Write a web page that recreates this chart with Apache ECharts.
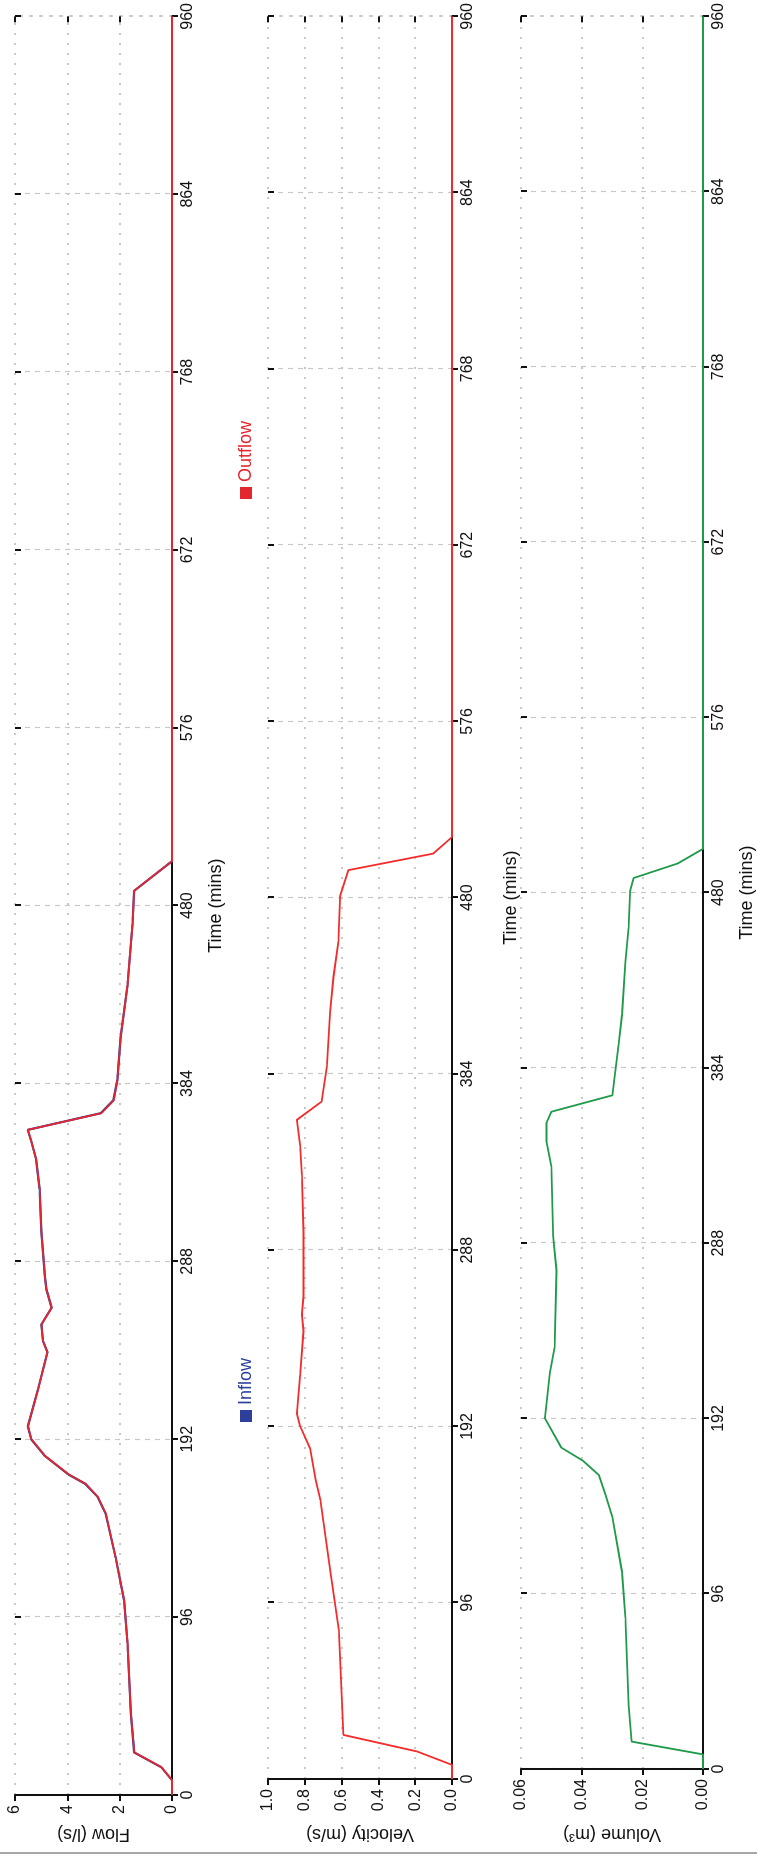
<!DOCTYPE html>
<html>
<head>
<meta charset="utf-8">
<script src="https://cdn.jsdelivr.net/npm/echarts@6/dist/echarts.min.js"></script>
<style>
  html, body { margin: 0; padding: 0; background: #fff; overflow: hidden; width: 757px; height: 1854px; }
  /* the chart is laid out landscape and turned a quarter to the left */
  #chart {
    position: absolute; left: 0; top: 0;
    width: 1854px; height: 757px;
    transform-origin: 0 0;
    transform: translate(0, 1854px) rotate(-90deg);
  }
</style>
</head>
<body>
<div id="chart"></div>
<script>
// time (mins) of each reading
var flowTimes = [0, 8, 15, 23, 44, 82, 105, 128, 152, 161, 168, 173, 183, 192, 199, 219, 239, 245, 254, 263, 273, 280, 304, 327, 343, 353, 359, 368, 375, 386, 409, 437, 470, 488, 504, 960]
var inflow = [0, 0, 0.41, 1.45, 1.57, 1.70, 1.83, 2.15, 2.54, 2.85, 3.32, 3.96, 4.86, 5.38, 5.51, 5.12, 4.76, 4.93, 4.99, 4.60, 4.80, 4.86, 4.99, 5.06, 5.19, 5.38, 5.51, 2.72, 2.24, 2.09, 1.96, 1.70, 1.51, 1.45, 0, 0]
var outflow = [0, 0, 0.40, 1.44, 1.57, 1.70, 1.83, 2.15, 2.53, 2.84, 3.30, 3.94, 4.85, 5.37, 5.51, 5.12, 4.76, 4.93, 4.99, 4.60, 4.80, 4.86, 4.99, 5.06, 5.19, 5.38, 5.51, 2.70, 2.22, 2.09, 1.96, 1.70, 1.51, 1.45, 0, 0]

var velTimes = [0, 7.7, 15, 24, 81, 112, 152, 163, 180, 192, 199, 220, 244, 253, 263, 298, 329, 345, 359, 369, 388, 418, 437, 456, 481, 495, 504, 513, 960]
var velocity = [0, 0, 0.19, 0.59, 0.615, 0.66, 0.715, 0.741, 0.771, 0.825, 0.843, 0.825, 0.807, 0.816, 0.807, 0.807, 0.816, 0.825, 0.843, 0.708, 0.68, 0.662, 0.644, 0.617, 0.608, 0.563, 0.103, 0, 0]

var volTimes = [0, 8, 15, 35, 83, 108, 138, 150, 161, 169, 176, 192, 217, 231, 273, 292, 330, 344, 354, 360, 369, 397, 413, 442, 461, 481, 488, 496, 504, 960]
var volume = [0, 0, 0.0235, 0.0245, 0.0256, 0.0267, 0.0299, 0.0321, 0.0343, 0.0397, 0.0467, 0.0521, 0.0505, 0.0489, 0.0483, 0.0494, 0.050, 0.0516, 0.0516, 0.050, 0.0299, 0.0278, 0.0267, 0.0256, 0.0245, 0.024, 0.0229, 0.0083, 0, 0]

var FONT = '"Liberation Sans", Arial, sans-serif'
var INK = '#111'
var GRIDGREY = '#c8c8c8'

function pairs(ts, vs) {
  return ts.map(function (t, i) { return [t, vs[i]] })
}

function timeAxes(gi, nameGap) {
  return [{
    type: 'value', gridIndex: gi, min: 0, max: 960, interval: 96,
    name: 'Time (mins)', nameLocation: 'middle', nameGap: nameGap,
    nameTextStyle: { fontSize: 18, color: INK, fontFamily: FONT },
    axisLine: { onZero: false, lineStyle: { color: INK, width: 2 } },
    axisTick: { length: 6, lineStyle: { color: INK, width: 2 } },
    axisLabel: { fontSize: 16, color: INK, margin: 8, fontFamily: FONT },
    splitLine: { show: true, showMaxLine: false, lineStyle: { color: GRIDGREY, type: [5, 5], width: 1.2 } }
  }, {
    // second axis only to make ticks cross the line
    type: 'value', gridIndex: gi, min: 0, max: 960, interval: 96,
    axisLine: { show: false, onZero: false },
    axisTick: { inside: true, length: 6, lineStyle: { color: INK, width: 2 } },
    axisLabel: { show: false },
    splitLine: { show: false }
  }]
}

function valueAxes(gi, name, max, step, digits, nameGap) {
  return [{
    type: 'value', gridIndex: gi, min: 0, max: max, interval: step,
    name: name, nameLocation: 'middle', nameGap: nameGap,
    nameTextStyle: { fontSize: 18, color: INK, fontFamily: FONT },
    axisLine: { show: true, onZero: false, lineStyle: { color: INK, width: 2 } },
    axisTick: { show: true, length: 6, lineStyle: { color: INK, width: 2 } },
    axisLabel: {
      fontSize: 16, color: INK, margin: 10, fontFamily: FONT,
      formatter: function (v) { return v.toFixed(digits) }
    },
    splitLine: { show: true, lineStyle: { color: GRIDGREY, type: [2, 8], width: 2 } }
  }, {
    type: 'value', gridIndex: gi, min: 0, max: max, interval: step,
    axisLine: { show: false, onZero: false },
    axisTick: { show: true, inside: true, length: 6, lineStyle: { color: INK, width: 2 } },
    axisLabel: { show: false },
    splitLine: { show: false }
  }, {
    // dotted frame at the 960 end
    type: 'value', gridIndex: gi, min: 0, max: max, position: 'right',
    axisLine: { show: true, onZero: false, lineStyle: { color: GRIDGREY, type: [2, 8], width: 2 } },
    axisTick: { show: false },
    axisLabel: { show: false },
    splitLine: { show: false }
  }]
}

var chart = echarts.init(document.getElementById('chart'))

var legendText = { fontSize: 18, fontFamily: FONT }

chart.setOption({
  animation: false,
  backgroundColor: '#fff',
  grid: [
    { left: 59, right: 16, top: 15, height: 157 },
    { left: 75, right: 16, top: 268, height: 184 },
    { left: 85, right: 16, top: 521, height: 185 }
  ],
  legend: [{
    data: ['Inflow'], left: 427, top: 232, icon: 'rect', itemWidth: 12, itemHeight: 12,
    textStyle: Object.assign({ color: '#2b3f9f' }, legendText)
  }, {
    data: ['Outflow'], left: 1350, top: 232, icon: 'rect', itemWidth: 12, itemHeight: 12,
    textStyle: Object.assign({ color: '#e4262e' }, legendText)
  }],
  xAxis: [].concat(timeAxes(0, 35), timeAxes(1, 50), timeAxes(2, 35)),
  yAxis: [].concat(
    valueAxes(0, 'Flow (l/s)', 6, 2, 0, 30),
    valueAxes(1, 'Velocity (m/s)', 1, 0.2, 1, 46),
    valueAxes(2, 'Volume (m³)', 0.06, 0.02, 2, 56)
  ),
  graphic: [{
    type: 'line', shape: { x1: 1, y1: 0, x2: 1, y2: 757 },
    style: { stroke: '#8a8a8a', lineWidth: 1.5 }
  }],
  series: [{
    name: 'Inflow', type: 'line', xAxisIndex: 0, yAxisIndex: 0,
    data: pairs(flowTimes, inflow), showSymbol: false, color: '#2d3f9a',
    lineStyle: { width: 2.2 }
  }, {
    name: 'Outflow', type: 'line', xAxisIndex: 0, yAxisIndex: 0,
    data: pairs(flowTimes, outflow), showSymbol: false, color: '#e4262e',
    lineStyle: { width: 1.8 }
  }, {
    name: 'Velocity', type: 'line', xAxisIndex: 2, yAxisIndex: 3,
    data: pairs(velTimes, velocity), showSymbol: false, color: '#f52a2a',
    lineStyle: { width: 1.8 }
  }, {
    name: 'Volume', type: 'line', xAxisIndex: 4, yAxisIndex: 6,
    data: pairs(volTimes, volume), showSymbol: false, color: '#1f9a4a',
    lineStyle: { width: 1.8 }
  }]
})
</script>
</body>
</html>
